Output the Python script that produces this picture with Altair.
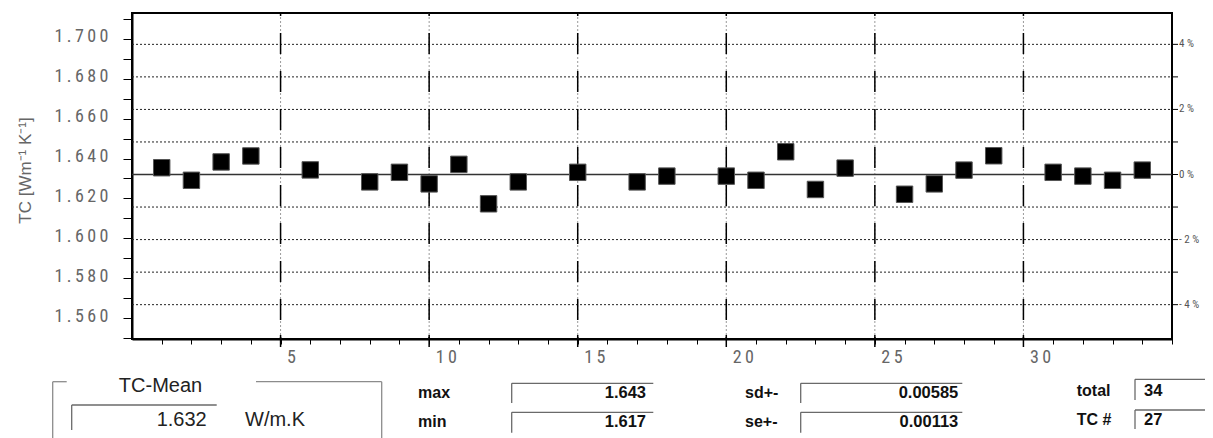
import altair as alt
import pandas as pd

# ---------------- data ----------------
sample_no = [1, 2, 3, 4, 6, 8, 9, 10, 11, 12, 13, 15, 17, 18, 20, 21, 22, 23, 24,
             26, 27, 28, 29, 31, 32, 33, 34]
tc_values = [1.6354, 1.6291, 1.6383, 1.6413, 1.6343, 1.6283, 1.6331, 1.6273, 1.6371,
             1.6173, 1.6283, 1.6331, 1.6283, 1.6312, 1.6312, 1.6291, 1.6434, 1.6245,
             1.6352, 1.6221, 1.6273, 1.6342, 1.6414, 1.6331, 1.6312, 1.6291, 1.6342]
tc_mean = 1.632
y_tick_values = [1.55, 1.56, 1.57, 1.58, 1.59, 1.60, 1.61, 1.62, 1.63, 1.64, 1.65,
                 1.66, 1.67, 1.68, 1.69, 1.70, 1.71]
y_label_values = ["1.56", "1.58", "1.60", "1.62", "1.64", "1.66", "1.68", "1.70"]
y_label_plain = ["1.560", "1.580", "1.600", "1.620", "1.640", "1.660", "1.680", "1.700"]
x_tick_values = list(range(1, 36))
x_label_values = [5, 10, 15, 20, 25, 30]
x_label_plain = ["5", "10", "15", "20", "25", "30"]
pct_grid = [-4, -3, -2, -1, 1, 2, 3, 4]
pct_ticks = [-4, -3, -2, -1, 0, 1, 2, 3, 4]
pct_label_values = [4, 2, 0, -2, -4]
pct_labels = ["4 %", "2 %", "0 %", "- 2 %", "- 4 %"]
mean_label = "TC-Mean"
mean_value_text = "1.632"
mean_unit = "W/m.K"
stat_names = ["max", "min", "sd+-", "se+-", "total", "TC #"]
stat_values = ["1.643", "1.617", "0.00585", "0.00113", "34", "27"]
y_title = "TC [Wm⁻¹ K⁻¹]"

# ---------------- layout / style ----------------
W, H = 1040, 326
THIN = "\u2009"
COND = "Roboto Condensed, Liberation Sans Narrow, DejaVu Sans Condensed, Arial Narrow, sans-serif"
SANS = "Liberation Sans, Arial, sans-serif"
xs = alt.Scale(domain=[0, 35], nice=False, zero=False)
ys = alt.Scale(domain=[1.5495, 1.7130], nice=False, zero=False)
one = pd.DataFrame({"a": [0]})

y_label_text = [THIN.join(s) for s in y_label_plain]   # letter-spaced look
x_label_text = [THIN.join(s) for s in x_label_plain]

y_expr = "".join(
    f"format(datum.value, '.2f') == '{v}' ? '{t}' : " for v, t in zip(y_label_values, y_label_text)
) + "''"
x_expr = "".join(
    f"datum.value == {v} ? '{t}' : " for v, t in zip(x_label_values, x_label_text)
) + "''"

xaxis = alt.Axis(
    values=x_tick_values, labelExpr=x_expr,
    tickSize=5, tickColor="black", tickWidth=1, domainColor="black", domainWidth=2,
    labelFont=COND, labelFontSize=18, labelColor="#666", labelAlign="left",
    labelBaseline="top", labelOffset=6, labelPadding=4, title=None, grid=False,
    labelOverlap=False, labelFlush=False,
)
yaxis = alt.Axis(
    values=y_tick_values, labelExpr=y_expr,
    tickSize=9, tickColor="black", tickWidth=1, domainColor="black", domainWidth=2,
    labelFont=COND, labelFontSize=18, labelColor="#666", labelPadding=15,
    labelOffset=-2, labelOverlap=False, labelFlush=False, grid=False,
    title=y_title, titleFont=SANS, titleFontSize=17, titleFontWeight="normal",
    titleColor="#666", titleX=-107, titleY=157, titleAngle=270,
    titleAlign="center", titleBaseline="middle",
)


def X(field):
    return alt.X(field, scale=xs, axis=xaxis)


def Y(field):
    return alt.Y(field, scale=ys, axis=yaxis)


layers = []

vgrid_df = pd.DataFrame({"n": x_label_values})
layers.append(
    alt.Chart(vgrid_df).mark_rule(color="#9a9a9a", strokeWidth=1, strokeDash=[2, 2])
    .encode(x=X("n:Q"), y=alt.value(0), y2=alt.value(H))
)

hgrid_df = pd.DataFrame({"p": pct_grid})
hgrid_df["tc"] = [tc_mean * (1 + p / 100) for p in pct_grid]
layers.append(
    alt.Chart(hgrid_df).mark_rule(color="#222", strokeWidth=1, strokeDash=[2, 2])
    .encode(y=Y("tc:Q"), x=alt.value(0), x2=alt.value(W))
)

layers.append(
    alt.Chart(vgrid_df).mark_rule(color="black", strokeWidth=1.5, strokeDash=[21, 17],
                                  strokeDashOffset=18)
    .encode(x=X("n:Q"), y=alt.value(0), y2=alt.value(H))
)
# longer major ticks on the x axis
layers.append(
    alt.Chart(vgrid_df).mark_rule(color="black", strokeWidth=1.5)
    .encode(x=X("n:Q"), y=alt.value(H - 4), y2=alt.value(H + 8))
)

mean_df = pd.DataFrame({"tc": [tc_mean]})
layers.append(
    alt.Chart(mean_df).mark_rule(color="#333", strokeWidth=1.6)
    .encode(y=Y("tc:Q"), x=alt.value(0), x2=alt.value(W))
)

pts_df = pd.DataFrame({"n": sample_no, "tc": tc_values})
layers.append(
    alt.Chart(pts_df).mark_square(size=270, fill="black", stroke="#555",
                                  strokeWidth=1, opacity=1, filled=True)
    .encode(x=X("n:Q"), y=Y("tc:Q"))
)

# right percent axis
rt_df = pd.DataFrame({"p": pct_ticks})
rt_df["tc"] = [tc_mean * (1 + p / 100) for p in pct_ticks]
layers.append(
    alt.Chart(rt_df).mark_rule(color="black", strokeWidth=1)
    .encode(y=Y("tc:Q"), x=alt.value(W), x2=alt.value(W + 6))
)
rl_df = pd.DataFrame({"p": pct_label_values, "lab": pct_labels})
rl_df["tc"] = [tc_mean * (1 + p / 100) for p in pct_label_values]
layers.append(
    alt.Chart(rl_df).mark_text(align="left", baseline="middle", font=COND,
                               fontSize=11, color="#555")
    .encode(y=Y("tc:Q"), x=alt.value(W + 7), text="lab:N")
)

# ---------------- statistics panel (decoration) ----------------
GRAY = "#8c8c8c"
DARK = "#6a6a6a"
panel_lines = [
    (-79.3, -79.3, 368.7, 430, GRAY),
    (-79.3, -65.3, 368.7, 368.7, GRAY),
    (124, 249.7, 368.7, 368.7, GRAY),
    (249.7, 249.7, 368.7, 430, GRAY),
    (-60.3, 84.7, 392, 392, DARK),
    (-60.3, -60.3, 392, 417, DARK),
    (379.7, 521.3, 370.3, 370.3, DARK),
    (379.7, 379.7, 370.3, 390, DARK),
    (379.7, 521.3, 399.3, 399.3, DARK),
    (379.7, 379.7, 399.3, 419.7, DARK),
    (668.7, 830.3, 370.3, 370.3, DARK),
    (668.7, 668.7, 370.3, 390, DARK),
    (668.7, 830.3, 399.3, 399.3, DARK),
    (668.7, 668.7, 399.3, 419.7, DARK),
    (1003, 1073, 366.3, 366.3, DARK),
    (1003, 1003, 366.3, 387, DARK),
    (1003, 1073, 397, 397, DARK),
    (1003, 1003, 397, 416, DARK),
]
for x1, x2, y1, y2, col in panel_lines:
    layers.append(
        alt.Chart(one).mark_rule(color=col, strokeWidth=1.3)
        .encode(x=alt.value(x1), x2=alt.value(x2), y=alt.value(y1), y2=alt.value(y2))
    )


def txt(s, x, y, align, size, weight="normal", color="#111"):
    return (
        alt.Chart(one).mark_text(text=s, align=align, baseline="alphabetic", font=SANS,
                                 fontSize=size, fontWeight=weight, color=color)
        .encode(x=alt.value(x), y=alt.value(y))
    )


layers.append(txt(mean_label, 28.5, 378.7, "center", 20, color="#222"))
layers.append(txt(mean_value_text, 74.7, 413, "right", 20, color="#222"))
layers.append(txt(mean_unit, 113, 413, "left", 20, color="#222"))

name_pos = [(286, 385.3), (286, 413.7), (613, 385.3), (613, 413.7), (944.7, 383), (944.7, 412)]
val_pos = [(514, 385.3, "right"), (514, 413.7, "right"), (826.3, 385.3, "right"),
           (826.3, 413.7, "right"), (1012, 383, "left"), (1012, 412, "left")]
for name, (nx, ny) in zip(stat_names, name_pos):
    layers.append(txt(name, nx, ny, "left", 16, "bold"))
for val, (vx, vy, al) in zip(stat_values, val_pos):
    layers.append(txt(val, vx, vy, al, 16.5, "bold"))

chart = (
    alt.layer(*layers)
    .properties(width=W, height=H, autosize=alt.AutoSizeParams(type="none"),
                padding={"left": 124, "top": 5, "right": 33, "bottom": 99})
    .configure_view(stroke="black", strokeWidth=2)
    .configure_axis(grid=False)
)

chart.save("out.html", embed_options={"renderer": "svg", "actions": False})
